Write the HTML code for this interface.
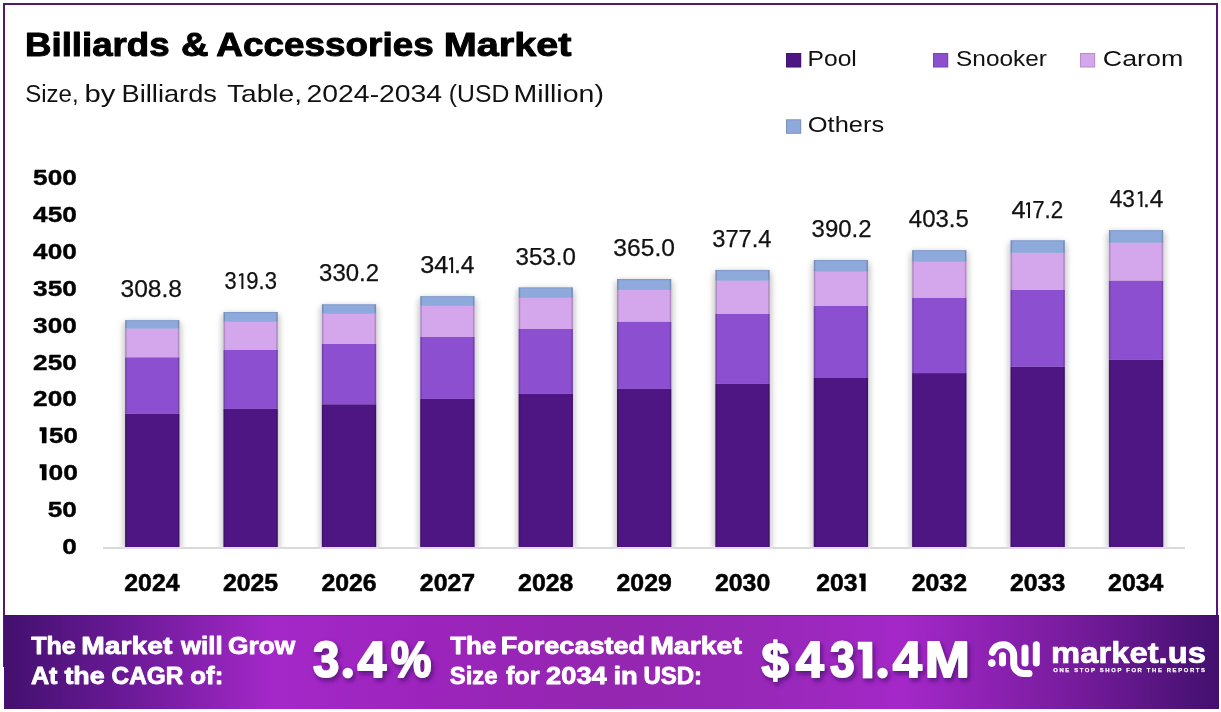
<!DOCTYPE html>
<html><head><meta charset="utf-8"><title>Billiards &amp; Accessories Market</title>
<style>
html,body{margin:0;padding:0;background:#fff;}
body{width:1221px;height:712px;position:relative;overflow:hidden;font-family:"Liberation Sans",sans-serif;}
svg{position:absolute;left:0;top:0;font-family:"Liberation Sans",sans-serif;will-change:transform;}
.frame{position:absolute;left:3px;top:3px;width:1211px;height:660px;border:2px solid #521c60;border-right-color:#58147a;}
.banner{position:absolute;left:4px;top:615px;width:1215px;height:94px;box-shadow:inset 0 1px 0 rgba(60,20,80,0.3);
background:linear-gradient(90deg,#42106e 0%,#6c1a98 10.4%,#a428c8 22%,#9c24bc 35%,#9426b0 50%,#9828b8 62.5%,#a428c8 74%,#781c9e 87.7%,#42106e 100%);}
</style></head><body>
<div class="frame"></div>
<svg width="1221" height="712" viewBox="0 0 1221 712">
<defs>
<filter id="bsh" x="-10%" y="-10%" width="120%" height="120%"><feDropShadow dx="0" dy="3" stdDeviation="3.5" flood-color="#202028" flood-opacity="0.44"/></filter>
<clipPath id="plotclip"><rect x="90" y="150" width="1110" height="397"/></clipPath>
</defs>
<rect x="103" y="547" width="1082" height="2" fill="#d9d9d9"/>
<g clip-path="url(#plotclip)"><g filter="url(#bsh)">
<rect x="125.10" y="413.90" width="54.30" height="133.10" fill="#4e1682"/>
<rect x="125.10" y="357.30" width="54.30" height="56.60" fill="#8c50cf"/>
<rect x="125.10" y="328.50" width="54.30" height="28.80" fill="#d4a6ec"/>
<rect x="125.10" y="320.10" width="54.30" height="8.40" fill="#8eaadc"/>
<rect x="223.48" y="408.90" width="54.30" height="138.10" fill="#4e1682"/>
<rect x="223.48" y="349.90" width="54.30" height="59.00" fill="#8c50cf"/>
<rect x="223.48" y="321.70" width="54.30" height="28.20" fill="#d4a6ec"/>
<rect x="223.48" y="312.00" width="54.30" height="9.70" fill="#8eaadc"/>
<rect x="321.86" y="404.30" width="54.30" height="142.70" fill="#4e1682"/>
<rect x="321.86" y="344.00" width="54.30" height="60.30" fill="#8c50cf"/>
<rect x="321.86" y="313.70" width="54.30" height="30.30" fill="#d4a6ec"/>
<rect x="321.86" y="304.20" width="54.30" height="9.50" fill="#8eaadc"/>
<rect x="420.24" y="398.90" width="54.30" height="148.10" fill="#4e1682"/>
<rect x="420.24" y="337.00" width="54.30" height="61.90" fill="#8c50cf"/>
<rect x="420.24" y="305.80" width="54.30" height="31.20" fill="#d4a6ec"/>
<rect x="420.24" y="296.10" width="54.30" height="9.70" fill="#8eaadc"/>
<rect x="518.62" y="393.90" width="54.30" height="153.10" fill="#4e1682"/>
<rect x="518.62" y="329.00" width="54.30" height="64.90" fill="#8c50cf"/>
<rect x="518.62" y="297.80" width="54.30" height="31.20" fill="#d4a6ec"/>
<rect x="518.62" y="287.30" width="54.30" height="10.50" fill="#8eaadc"/>
<rect x="617.00" y="388.90" width="54.30" height="158.10" fill="#4e1682"/>
<rect x="617.00" y="321.70" width="54.30" height="67.20" fill="#8c50cf"/>
<rect x="617.00" y="289.90" width="54.30" height="31.80" fill="#d4a6ec"/>
<rect x="617.00" y="279.00" width="54.30" height="10.90" fill="#8eaadc"/>
<rect x="715.38" y="383.90" width="54.30" height="163.10" fill="#4e1682"/>
<rect x="715.38" y="313.90" width="54.30" height="70.00" fill="#8c50cf"/>
<rect x="715.38" y="280.60" width="54.30" height="33.30" fill="#d4a6ec"/>
<rect x="715.38" y="269.90" width="54.30" height="10.70" fill="#8eaadc"/>
<rect x="813.76" y="378.00" width="54.30" height="169.00" fill="#4e1682"/>
<rect x="813.76" y="305.90" width="54.30" height="72.10" fill="#8c50cf"/>
<rect x="813.76" y="271.60" width="54.30" height="34.30" fill="#d4a6ec"/>
<rect x="813.76" y="260.00" width="54.30" height="11.60" fill="#8eaadc"/>
<rect x="912.14" y="373.10" width="54.30" height="173.90" fill="#4e1682"/>
<rect x="912.14" y="297.90" width="54.30" height="75.20" fill="#8c50cf"/>
<rect x="912.14" y="261.70" width="54.30" height="36.20" fill="#d4a6ec"/>
<rect x="912.14" y="250.10" width="54.30" height="11.60" fill="#8eaadc"/>
<rect x="1010.52" y="366.80" width="54.30" height="180.20" fill="#4e1682"/>
<rect x="1010.52" y="290.00" width="54.30" height="76.80" fill="#8c50cf"/>
<rect x="1010.52" y="252.80" width="54.30" height="37.20" fill="#d4a6ec"/>
<rect x="1010.52" y="240.20" width="54.30" height="12.60" fill="#8eaadc"/>
<rect x="1108.90" y="359.70" width="54.30" height="187.30" fill="#4e1682"/>
<rect x="1108.90" y="280.60" width="54.30" height="79.10" fill="#8c50cf"/>
<rect x="1108.90" y="242.70" width="54.30" height="37.90" fill="#d4a6ec"/>
<rect x="1108.90" y="230.10" width="54.30" height="12.60" fill="#8eaadc"/>
</g></g>
<rect x="122.60" y="547" width="59.30" height="2" fill="#e8d6f8"/>
<rect x="220.98" y="547" width="59.30" height="2" fill="#e8d6f8"/>
<rect x="319.36" y="547" width="59.30" height="2" fill="#e8d6f8"/>
<rect x="417.74" y="547" width="59.30" height="2" fill="#e8d6f8"/>
<rect x="516.12" y="547" width="59.30" height="2" fill="#e8d6f8"/>
<rect x="614.50" y="547" width="59.30" height="2" fill="#e8d6f8"/>
<rect x="712.88" y="547" width="59.30" height="2" fill="#e8d6f8"/>
<rect x="811.26" y="547" width="59.30" height="2" fill="#e8d6f8"/>
<rect x="909.64" y="547" width="59.30" height="2" fill="#e8d6f8"/>
<rect x="1008.02" y="547" width="59.30" height="2" fill="#e8d6f8"/>
<rect x="1106.40" y="547" width="59.30" height="2" fill="#e8d6f8"/>
<rect x="125.10" y="320.10" width="1.6" height="226.90" fill="#000" opacity="0.16"/>
<rect x="177.80" y="320.10" width="1.6" height="226.90" fill="#000" opacity="0.16"/>
<rect x="126.70" y="320.10" width="51.10" height="1.2" fill="#000" opacity="0.08"/>
<rect x="223.48" y="312.00" width="1.6" height="235.00" fill="#000" opacity="0.16"/>
<rect x="276.18" y="312.00" width="1.6" height="235.00" fill="#000" opacity="0.16"/>
<rect x="225.08" y="312.00" width="51.10" height="1.2" fill="#000" opacity="0.08"/>
<rect x="321.86" y="304.20" width="1.6" height="242.80" fill="#000" opacity="0.16"/>
<rect x="374.56" y="304.20" width="1.6" height="242.80" fill="#000" opacity="0.16"/>
<rect x="323.46" y="304.20" width="51.10" height="1.2" fill="#000" opacity="0.08"/>
<rect x="420.24" y="296.10" width="1.6" height="250.90" fill="#000" opacity="0.16"/>
<rect x="472.94" y="296.10" width="1.6" height="250.90" fill="#000" opacity="0.16"/>
<rect x="421.84" y="296.10" width="51.10" height="1.2" fill="#000" opacity="0.08"/>
<rect x="518.62" y="287.30" width="1.6" height="259.70" fill="#000" opacity="0.16"/>
<rect x="571.32" y="287.30" width="1.6" height="259.70" fill="#000" opacity="0.16"/>
<rect x="520.22" y="287.30" width="51.10" height="1.2" fill="#000" opacity="0.08"/>
<rect x="617.00" y="279.00" width="1.6" height="268.00" fill="#000" opacity="0.16"/>
<rect x="669.70" y="279.00" width="1.6" height="268.00" fill="#000" opacity="0.16"/>
<rect x="618.60" y="279.00" width="51.10" height="1.2" fill="#000" opacity="0.08"/>
<rect x="715.38" y="269.90" width="1.6" height="277.10" fill="#000" opacity="0.16"/>
<rect x="768.08" y="269.90" width="1.6" height="277.10" fill="#000" opacity="0.16"/>
<rect x="716.98" y="269.90" width="51.10" height="1.2" fill="#000" opacity="0.08"/>
<rect x="813.76" y="260.00" width="1.6" height="287.00" fill="#000" opacity="0.16"/>
<rect x="866.46" y="260.00" width="1.6" height="287.00" fill="#000" opacity="0.16"/>
<rect x="815.36" y="260.00" width="51.10" height="1.2" fill="#000" opacity="0.08"/>
<rect x="912.14" y="250.10" width="1.6" height="296.90" fill="#000" opacity="0.16"/>
<rect x="964.84" y="250.10" width="1.6" height="296.90" fill="#000" opacity="0.16"/>
<rect x="913.74" y="250.10" width="51.10" height="1.2" fill="#000" opacity="0.08"/>
<rect x="1010.52" y="240.20" width="1.6" height="306.80" fill="#000" opacity="0.16"/>
<rect x="1063.22" y="240.20" width="1.6" height="306.80" fill="#000" opacity="0.16"/>
<rect x="1012.12" y="240.20" width="51.10" height="1.2" fill="#000" opacity="0.08"/>
<rect x="1108.90" y="230.10" width="1.6" height="316.90" fill="#000" opacity="0.16"/>
<rect x="1161.60" y="230.10" width="1.6" height="316.90" fill="#000" opacity="0.16"/>
<rect x="1110.50" y="230.10" width="51.10" height="1.2" fill="#000" opacity="0.08"/>
<text x="120.49" y="297.00" font-size="23.60" font-weight="400" fill="#111" stroke="#111" stroke-width="0.25" stroke-linejoin="round" textLength="61.55" lengthAdjust="spacingAndGlyphs">308.8</text>
<text x="224.40" y="289.00" font-size="23.60" font-weight="400" fill="#111" stroke="#111" stroke-width="0.25" stroke-linejoin="round" textLength="12.12" lengthAdjust="spacingAndGlyphs">3</text>
<path d="M239.00 274.40 L241.40 273.18 L243.40 273.18 L243.40 289.12 L241.40 289.12 L241.40 275.21 L239.00 276.42 Z" fill="#111"/>
<text x="246.31" y="289.00" font-size="23.60" font-weight="400" fill="#111" stroke="#111" stroke-width="0.25" stroke-linejoin="round" textLength="30.61" lengthAdjust="spacingAndGlyphs">9.3</text>
<text x="319.11" y="281.00" font-size="23.60" font-weight="400" fill="#111" stroke="#111" stroke-width="0.25" stroke-linejoin="round" textLength="59.97" lengthAdjust="spacingAndGlyphs">330.2</text>
<text x="420.26" y="273.00" font-size="23.60" font-weight="400" fill="#111" stroke="#111" stroke-width="0.25" stroke-linejoin="round" textLength="28.15" lengthAdjust="spacingAndGlyphs">34</text>
<path d="M449.00 258.40 L451.10 257.18 L453.10 257.18 L453.10 273.12 L451.10 273.12 L451.10 259.21 L449.00 260.42 Z" fill="#111"/>
<text x="453.98" y="273.00" font-size="23.60" font-weight="400" fill="#111" stroke="#111" stroke-width="0.25" stroke-linejoin="round" textLength="20.62" lengthAdjust="spacingAndGlyphs">.4</text>
<text x="515.51" y="265.00" font-size="23.60" font-weight="400" fill="#111" stroke="#111" stroke-width="0.25" stroke-linejoin="round" textLength="60.29" lengthAdjust="spacingAndGlyphs">353.0</text>
<text x="613.39" y="256.00" font-size="23.60" font-weight="400" fill="#111" stroke="#111" stroke-width="0.25" stroke-linejoin="round" textLength="61.53" lengthAdjust="spacingAndGlyphs">365.0</text>
<text x="712.23" y="247.00" font-size="23.60" font-weight="400" fill="#111" stroke="#111" stroke-width="0.25" stroke-linejoin="round" textLength="59.25" lengthAdjust="spacingAndGlyphs">377.4</text>
<text x="811.61" y="237.00" font-size="23.60" font-weight="400" fill="#111" stroke="#111" stroke-width="0.25" stroke-linejoin="round" textLength="59.97" lengthAdjust="spacingAndGlyphs">390.2</text>
<text x="908.80" y="227.00" font-size="23.60" font-weight="400" fill="#111" stroke="#111" stroke-width="0.25" stroke-linejoin="round" textLength="60.07" lengthAdjust="spacingAndGlyphs">403.5</text>
<text x="1011.47" y="218.00" font-size="23.60" font-weight="400" fill="#111" stroke="#111" stroke-width="0.25" stroke-linejoin="round" textLength="14.15" lengthAdjust="spacingAndGlyphs">4</text>
<path d="M1026.00 203.40 L1028.00 202.18 L1030.00 202.18 L1030.00 218.12 L1028.00 218.12 L1028.00 204.21 L1026.00 205.42 Z" fill="#111"/>
<text x="1032.19" y="218.00" font-size="23.60" font-weight="400" fill="#111" stroke="#111" stroke-width="0.25" stroke-linejoin="round" textLength="31.01" lengthAdjust="spacingAndGlyphs">7.2</text>
<text x="1109.63" y="207.00" font-size="23.60" font-weight="400" fill="#111" stroke="#111" stroke-width="0.25" stroke-linejoin="round" textLength="25.23" lengthAdjust="spacingAndGlyphs">43</text>
<path d="M1137.80 192.40 L1140.40 191.18 L1142.40 191.18 L1142.40 207.12 L1140.40 207.12 L1140.40 193.21 L1137.80 194.42 Z" fill="#111"/>
<text x="1142.99" y="207.00" font-size="23.60" font-weight="400" fill="#111" stroke="#111" stroke-width="0.25" stroke-linejoin="round" textLength="20.50" lengthAdjust="spacingAndGlyphs">.4</text>
<text x="124.27" y="591.00" font-size="23.00" font-weight="700" fill="#000" stroke="#000" stroke-width="0.50" stroke-linejoin="round" textLength="55.26" lengthAdjust="spacingAndGlyphs">2024</text>
<text x="222.92" y="591.00" font-size="23.00" font-weight="700" fill="#000" stroke="#000" stroke-width="0.50" stroke-linejoin="round" textLength="55.26" lengthAdjust="spacingAndGlyphs">2025</text>
<text x="321.40" y="591.00" font-size="23.00" font-weight="700" fill="#000" stroke="#000" stroke-width="0.50" stroke-linejoin="round" textLength="55.26" lengthAdjust="spacingAndGlyphs">2026</text>
<text x="419.88" y="591.00" font-size="23.00" font-weight="700" fill="#000" stroke="#000" stroke-width="0.50" stroke-linejoin="round" textLength="55.26" lengthAdjust="spacingAndGlyphs">2027</text>
<text x="518.10" y="591.00" font-size="23.00" font-weight="700" fill="#000" stroke="#000" stroke-width="0.50" stroke-linejoin="round" textLength="55.26" lengthAdjust="spacingAndGlyphs">2028</text>
<text x="616.55" y="591.00" font-size="23.00" font-weight="700" fill="#000" stroke="#000" stroke-width="0.50" stroke-linejoin="round" textLength="55.26" lengthAdjust="spacingAndGlyphs">2029</text>
<text x="714.98" y="591.00" font-size="23.00" font-weight="700" fill="#000" stroke="#000" stroke-width="0.50" stroke-linejoin="round" textLength="55.26" lengthAdjust="spacingAndGlyphs">2030</text>
<text x="816.21" y="591.00" font-size="23.00" font-weight="700" fill="#000" stroke="#000" stroke-width="0.50" stroke-linejoin="round" textLength="41.22" lengthAdjust="spacingAndGlyphs">203</text>
<path d="M859.40 573.62 L865.60 573.62 L865.60 591.25 L861.20 591.25 L861.20 577.82 L859.40 577.82 Z" fill="#000"/>
<text x="911.73" y="591.00" font-size="23.00" font-weight="700" fill="#000" stroke="#000" stroke-width="0.50" stroke-linejoin="round" textLength="55.26" lengthAdjust="spacingAndGlyphs">2032</text>
<text x="1010.06" y="591.00" font-size="23.00" font-weight="700" fill="#000" stroke="#000" stroke-width="0.50" stroke-linejoin="round" textLength="55.26" lengthAdjust="spacingAndGlyphs">2033</text>
<text x="1108.07" y="591.00" font-size="23.00" font-weight="700" fill="#000" stroke="#000" stroke-width="0.50" stroke-linejoin="round" textLength="55.26" lengthAdjust="spacingAndGlyphs">2034</text>
<text x="62.28" y="554.00" font-size="22.40" font-weight="700" fill="#000" stroke="#000" stroke-width="0.40" stroke-linejoin="round" textLength="14.58" lengthAdjust="spacingAndGlyphs">0</text>
<text x="47.71" y="517.00" font-size="22.40" font-weight="700" fill="#000" stroke="#000" stroke-width="0.40" stroke-linejoin="round" textLength="29.15" lengthAdjust="spacingAndGlyphs">50</text>
<path d="M39.60 464.16 L46.50 464.16 L46.50 480.20 L41.90 480.20 L41.90 468.36 L39.60 468.36 Z" fill="#000"/>
<text x="48.47" y="480.00" font-size="22.40" font-weight="700" fill="#000" stroke="#000" stroke-width="0.40" stroke-linejoin="round" textLength="29.40" lengthAdjust="spacingAndGlyphs">00</text>
<path d="M39.60 427.16 L46.50 427.16 L46.50 443.20 L41.90 443.20 L41.90 431.36 L39.60 431.36 Z" fill="#000"/>
<text x="49.02" y="443.00" font-size="22.40" font-weight="700" fill="#000" stroke="#000" stroke-width="0.40" stroke-linejoin="round" textLength="28.82" lengthAdjust="spacingAndGlyphs">50</text>
<text x="33.13" y="406.00" font-size="22.40" font-weight="700" fill="#000" stroke="#000" stroke-width="0.40" stroke-linejoin="round" textLength="43.73" lengthAdjust="spacingAndGlyphs">200</text>
<text x="33.13" y="370.00" font-size="22.40" font-weight="700" fill="#000" stroke="#000" stroke-width="0.40" stroke-linejoin="round" textLength="43.73" lengthAdjust="spacingAndGlyphs">250</text>
<text x="33.13" y="333.00" font-size="22.40" font-weight="700" fill="#000" stroke="#000" stroke-width="0.40" stroke-linejoin="round" textLength="43.73" lengthAdjust="spacingAndGlyphs">300</text>
<text x="33.13" y="296.00" font-size="22.40" font-weight="700" fill="#000" stroke="#000" stroke-width="0.40" stroke-linejoin="round" textLength="43.73" lengthAdjust="spacingAndGlyphs">350</text>
<text x="33.13" y="259.00" font-size="22.40" font-weight="700" fill="#000" stroke="#000" stroke-width="0.40" stroke-linejoin="round" textLength="43.73" lengthAdjust="spacingAndGlyphs">400</text>
<text x="33.13" y="222.00" font-size="22.40" font-weight="700" fill="#000" stroke="#000" stroke-width="0.40" stroke-linejoin="round" textLength="43.73" lengthAdjust="spacingAndGlyphs">450</text>
<text x="33.13" y="185.00" font-size="22.40" font-weight="700" fill="#000" stroke="#000" stroke-width="0.40" stroke-linejoin="round" textLength="43.73" lengthAdjust="spacingAndGlyphs">500</text>
<text x="24.98" y="56.00" font-size="34.00" font-weight="700" fill="#000" stroke="#000" stroke-width="1.00" stroke-linejoin="round" textLength="144.68" lengthAdjust="spacingAndGlyphs">Billiards</text>
<text x="180.96" y="56.00" font-size="34.00" font-weight="700" fill="#000" stroke="#000" stroke-width="1.00" stroke-linejoin="round" textLength="27.53" lengthAdjust="spacingAndGlyphs">&amp;</text>
<text x="216.31" y="56.00" font-size="34.00" font-weight="700" fill="#000" stroke="#000" stroke-width="1.00" stroke-linejoin="round" textLength="217.47" lengthAdjust="spacingAndGlyphs">Accessories</text>
<text x="443.78" y="56.00" font-size="34.00" font-weight="700" fill="#000" stroke="#000" stroke-width="1.00" stroke-linejoin="round" textLength="127.78" lengthAdjust="spacingAndGlyphs">Market</text>
<text x="25.22" y="102.00" font-size="24.20" font-weight="400" fill="#111" textLength="53.45" lengthAdjust="spacingAndGlyphs">Size,</text>
<text x="84.43" y="102.00" font-size="24.20" font-weight="400" fill="#111" textLength="30.83" lengthAdjust="spacingAndGlyphs">by</text>
<text x="121.57" y="102.00" font-size="24.20" font-weight="400" fill="#111" textLength="95.42" lengthAdjust="spacingAndGlyphs">Billiards</text>
<text x="226.98" y="102.00" font-size="24.20" font-weight="400" fill="#111" textLength="75.03" lengthAdjust="spacingAndGlyphs">Table,</text>
<text x="306.58" y="102.00" font-size="24.20" font-weight="400" fill="#111" textLength="135.55" lengthAdjust="spacingAndGlyphs">2024-2034</text>
<text x="448.87" y="102.00" font-size="24.20" font-weight="400" fill="#111" textLength="60.51" lengthAdjust="spacingAndGlyphs">(USD</text>
<text x="513.56" y="102.00" font-size="24.20" font-weight="400" fill="#111" textLength="90.41" lengthAdjust="spacingAndGlyphs">Million)</text>
<rect x="786.0" y="53.0" width="15.2" height="14.5" fill="#4e1682"/>
<rect x="786.5" y="53.5" width="14.2" height="13.5" fill="none" stroke="#000" stroke-opacity="0.14" stroke-width="1"/>
<text x="807.58" y="66.00" font-size="22.40" font-weight="400" fill="#111" textLength="49.25" lengthAdjust="spacingAndGlyphs">Pool</text>
<rect x="933.0" y="53.0" width="15.2" height="14.5" fill="#8c50cf"/>
<rect x="933.5" y="53.5" width="14.2" height="13.5" fill="none" stroke="#000" stroke-opacity="0.14" stroke-width="1"/>
<text x="956.10" y="66.00" font-size="22.40" font-weight="400" fill="#111" textLength="90.88" lengthAdjust="spacingAndGlyphs">Snooker</text>
<rect x="1080.0" y="53.0" width="15.2" height="14.5" fill="#d4a6ec"/>
<rect x="1080.5" y="53.5" width="14.2" height="13.5" fill="none" stroke="#000" stroke-opacity="0.14" stroke-width="1"/>
<text x="1102.86" y="66.00" font-size="22.40" font-weight="400" fill="#111" textLength="80.37" lengthAdjust="spacingAndGlyphs">Carom</text>
<rect x="786.0" y="119.3" width="15.2" height="14.5" fill="#8eaadc"/>
<rect x="786.5" y="119.8" width="14.2" height="13.5" fill="none" stroke="#000" stroke-opacity="0.14" stroke-width="1"/>
<text x="807.80" y="132.00" font-size="22.40" font-weight="400" fill="#111" textLength="76.31" lengthAdjust="spacingAndGlyphs">Others</text>
</svg>
<div class="banner"></div>
<svg width="1221" height="712" viewBox="0 0 1221 712">
<defs>
<filter id="tsh" x="-10%" y="-20%" width="130%" height="160%"><feDropShadow dx="2" dy="3" stdDeviation="2.2" flood-color="#3a0a60" flood-opacity="0.7"/></filter>
</defs>
<text x="31.25" y="654.00" font-size="24.10" font-weight="700" fill="#fff" stroke="#fff" stroke-width="0.85" stroke-linejoin="round" textLength="44.57" lengthAdjust="spacingAndGlyphs">The</text>
<text x="81.26" y="654.00" font-size="24.10" font-weight="700" fill="#fff" stroke="#fff" stroke-width="0.85" stroke-linejoin="round" textLength="91.04" lengthAdjust="spacingAndGlyphs">Market</text>
<text x="181.00" y="654.00" font-size="24.10" font-weight="700" fill="#fff" stroke="#fff" stroke-width="0.85" stroke-linejoin="round" textLength="41.59" lengthAdjust="spacingAndGlyphs">will</text>
<text x="227.95" y="654.00" font-size="24.10" font-weight="700" fill="#fff" stroke="#fff" stroke-width="0.85" stroke-linejoin="round" textLength="67.27" lengthAdjust="spacingAndGlyphs">Grow</text>
<text x="30.92" y="684.00" font-size="24.10" font-weight="700" fill="#fff" stroke="#fff" stroke-width="0.85" stroke-linejoin="round" textLength="26.56" lengthAdjust="spacingAndGlyphs">At</text>
<text x="64.40" y="684.00" font-size="24.10" font-weight="700" fill="#fff" stroke="#fff" stroke-width="0.85" stroke-linejoin="round" textLength="40.29" lengthAdjust="spacingAndGlyphs">the</text>
<text x="111.63" y="684.00" font-size="24.10" font-weight="700" fill="#fff" stroke="#fff" stroke-width="0.85" stroke-linejoin="round" textLength="71.74" lengthAdjust="spacingAndGlyphs">CAGR</text>
<text x="190.22" y="684.00" font-size="24.10" font-weight="700" fill="#fff" stroke="#fff" stroke-width="0.85" stroke-linejoin="round" textLength="33.04" lengthAdjust="spacingAndGlyphs">of:</text>
<text x="450.24" y="654.00" font-size="24.10" font-weight="700" fill="#fff" stroke="#fff" stroke-width="0.85" stroke-linejoin="round" textLength="46.01" lengthAdjust="spacingAndGlyphs">The</text>
<text x="500.74" y="654.00" font-size="24.10" font-weight="700" fill="#fff" stroke="#fff" stroke-width="0.85" stroke-linejoin="round" textLength="144.31" lengthAdjust="spacingAndGlyphs">Forecasted</text>
<text x="650.15" y="654.00" font-size="24.10" font-weight="700" fill="#fff" stroke="#fff" stroke-width="0.85" stroke-linejoin="round" textLength="91.76" lengthAdjust="spacingAndGlyphs">Market</text>
<text x="449.86" y="684.00" font-size="24.10" font-weight="700" fill="#fff" stroke="#fff" stroke-width="0.85" stroke-linejoin="round" textLength="47.52" lengthAdjust="spacingAndGlyphs">Size</text>
<text x="505.90" y="684.00" font-size="24.10" font-weight="700" fill="#fff" stroke="#fff" stroke-width="0.85" stroke-linejoin="round" textLength="33.63" lengthAdjust="spacingAndGlyphs">for</text>
<text x="546.10" y="684.00" font-size="24.10" font-weight="700" fill="#fff" stroke="#fff" stroke-width="0.85" stroke-linejoin="round" textLength="60.63" lengthAdjust="spacingAndGlyphs">2034</text>
<text x="613.44" y="684.00" font-size="24.10" font-weight="700" fill="#fff" stroke="#fff" stroke-width="0.85" stroke-linejoin="round" textLength="24.33" lengthAdjust="spacingAndGlyphs">in</text>
<text x="643.39" y="684.00" font-size="24.10" font-weight="700" fill="#fff" stroke="#fff" stroke-width="0.85" stroke-linejoin="round" textLength="58.60" lengthAdjust="spacingAndGlyphs">USD:</text>
<g filter="url(#tsh)">
<text x="313.06" y="677.00" font-size="50.50" font-weight="700" fill="#fff" stroke="#fff" stroke-width="1.80" stroke-linejoin="round" textLength="26.30" lengthAdjust="spacingAndGlyphs">3</text>
<circle cx="347.75" cy="673.0" r="5.2" fill="#fff"/>
<text x="357.52" y="677.00" font-size="50.50" font-weight="700" fill="#fff" stroke="#fff" stroke-width="1.80" stroke-linejoin="round" textLength="28.85" lengthAdjust="spacingAndGlyphs">4</text>
<text x="390.70" y="677.00" font-size="50.50" font-weight="700" fill="#fff" stroke="#fff" stroke-width="1.80" stroke-linejoin="round" textLength="40.70" lengthAdjust="spacingAndGlyphs">%</text>
<text x="761.46" y="677.00" font-size="50.50" font-weight="700" fill="#fff" stroke="#fff" stroke-width="1.80" stroke-linejoin="round" textLength="27.44" lengthAdjust="spacingAndGlyphs">$</text>
<text x="795.74" y="677.00" font-size="50.50" font-weight="700" fill="#fff" stroke="#fff" stroke-width="1.80" stroke-linejoin="round" textLength="28.12" lengthAdjust="spacingAndGlyphs">4</text>
<text x="829.92" y="677.00" font-size="50.50" font-weight="700" fill="#fff" stroke="#fff" stroke-width="1.80" stroke-linejoin="round" textLength="24.74" lengthAdjust="spacingAndGlyphs">3</text>
<path d="M862.8 641.8 H872.2 V678.2 H862.8 V649.6 H857.8 V641.8 Z" fill="#fff"/>
<circle cx="882.50" cy="673.0" r="5.2" fill="#fff"/>
<text x="892.71" y="677.00" font-size="50.50" font-weight="700" fill="#fff" stroke="#fff" stroke-width="1.80" stroke-linejoin="round" textLength="29.16" lengthAdjust="spacingAndGlyphs">4</text>
<text x="924.83" y="677.00" font-size="50.50" font-weight="700" fill="#fff" stroke="#fff" stroke-width="1.80" stroke-linejoin="round" textLength="45.04" lengthAdjust="spacingAndGlyphs">M</text>
</g>
<g fill="none" stroke="#fff" stroke-linecap="round" stroke-width="7">
<path d="M992.4 652.3 A10.9 10.9 0 0 1 1013.7 655.4 L1013.7 663.5 A10 10 0 0 0 1023.7 673.5 L1029 673.5"/>
<path d="M1002.5 655.5 L1002.5 663"/>
<path d="M1025 648 L1025 663"/>
<path d="M1036.3 644.8 L1036.3 663"/>
</g>
<circle cx="991.8" cy="663.1" r="3.8" fill="#fff"/>
<text x="1051.12" y="663.00" font-size="29.00" font-weight="700" fill="#fff" stroke="#fff" stroke-width="0.70" stroke-linejoin="round" textLength="154.86" lengthAdjust="spacingAndGlyphs">market.us</text>
<text x="1053.2" y="672" font-size="5.9" font-weight="700" fill="#fff" textLength="151.8" lengthAdjust="spacing" stroke="#fff" stroke-width="0.25">ONE STOP SHOP FOR THE REPORTS</text>
</svg>
</body></html>
